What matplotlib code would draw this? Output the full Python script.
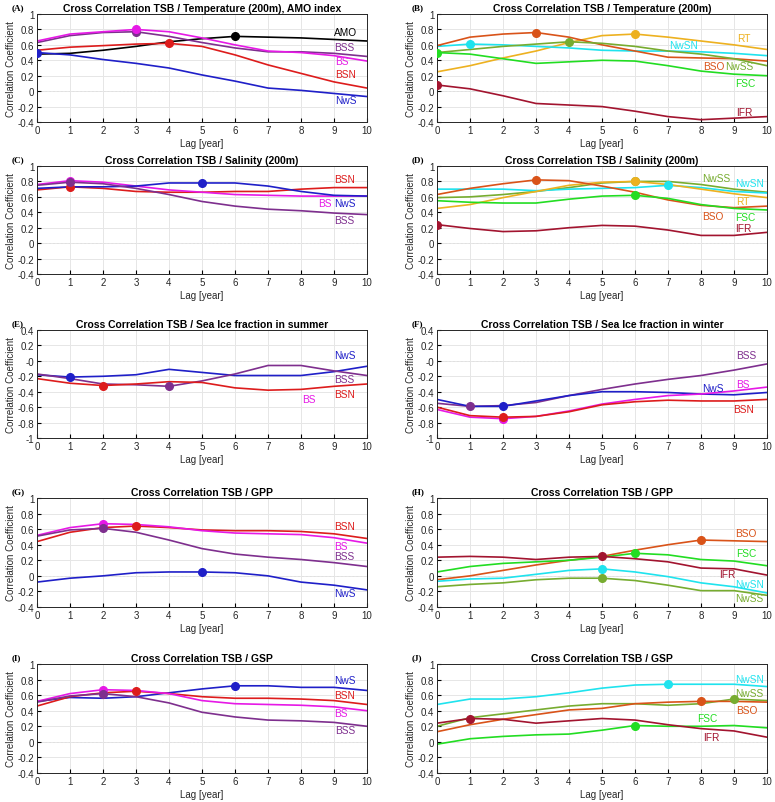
import matplotlib
matplotlib.use("Agg")
import matplotlib.pyplot as plt
import numpy as np

plt.rcParams["font.family"] = ["Liberation Sans", "DejaVu Sans"]

lag = np.arange(11)

# colours per region
colors = {
    "AMO": "black", "BSS": "#7E2F8E", "BS": "#E619E6", "BSN": "#DD1C1C",
    "NwS": "#1F1FC8", "RT": "#EDB120", "NwSN": "#1FE3EE", "BSO": "#D95319",
    "NwSS": "#77AC30", "FSC": "#22DD22", "IFR": "#A2142F",
}

# (A) Temperature 200m, AMO index
a_amo = [0.48, 0.49, 0.53, 0.58, 0.64, 0.68, 0.71, 0.70, 0.69, 0.67, 0.65]
a_bss = [0.63, 0.72, 0.76, 0.77, 0.71, 0.63, 0.56, 0.51, 0.51, 0.49, 0.45]
a_bs = [0.65, 0.74, 0.77, 0.80, 0.77, 0.69, 0.60, 0.52, 0.50, 0.46, 0.39]
a_bsn = [0.53, 0.57, 0.59, 0.61, 0.62, 0.58, 0.47, 0.34, 0.23, 0.12, 0.04]
a_nws = [0.50, 0.47, 0.41, 0.36, 0.30, 0.21, 0.13, 0.04, 0.01, -0.03, -0.07]

# (B) Temperature 200m
b_rt = [0.25, 0.33, 0.43, 0.52, 0.63, 0.72, 0.74, 0.70, 0.65, 0.60, 0.54]
b_nwsn = [0.58, 0.61, 0.60, 0.58, 0.56, 0.53, 0.52, 0.52, 0.51, 0.49, 0.46]
b_bso = [0.59, 0.70, 0.74, 0.76, 0.70, 0.60, 0.52, 0.44, 0.43, 0.42, 0.39]
b_nwss = [0.50, 0.54, 0.58, 0.61, 0.64, 0.62, 0.58, 0.52, 0.48, 0.42, 0.33]
b_fsc = [0.50, 0.48, 0.42, 0.36, 0.38, 0.40, 0.39, 0.33, 0.26, 0.22, 0.20]
b_ifr = [0.08, 0.03, -0.06, -0.16, -0.18, -0.20, -0.26, -0.33, -0.37, -0.35, -0.33]

# (C) Salinity 200m
c_bsn = [0.69, 0.73, 0.71, 0.67, 0.66, 0.66, 0.67, 0.67, 0.70, 0.72, 0.72]
c_bs = [0.76, 0.81, 0.79, 0.74, 0.69, 0.66, 0.63, 0.62, 0.61, 0.61, 0.61]
c_nws = [0.71, 0.73, 0.73, 0.74, 0.78, 0.78, 0.78, 0.74, 0.67, 0.62, 0.61]
c_bss = [0.75, 0.79, 0.77, 0.71, 0.63, 0.54, 0.48, 0.44, 0.42, 0.39, 0.37]

# (D) Salinity 200m
d_nwss = [0.59, 0.60, 0.63, 0.67, 0.72, 0.78, 0.80, 0.80, 0.76, 0.70, 0.66]
d_nwsn = [0.70, 0.70, 0.70, 0.68, 0.70, 0.71, 0.72, 0.75, 0.72, 0.67, 0.65]
d_rt = [0.45, 0.50, 0.59, 0.67, 0.75, 0.79, 0.80, 0.76, 0.70, 0.64, 0.59]
d_bso = [0.63, 0.71, 0.77, 0.82, 0.81, 0.74, 0.66, 0.56, 0.49, 0.46, 0.48]
d_fsc = [0.55, 0.53, 0.52, 0.52, 0.57, 0.61, 0.62, 0.58, 0.50, 0.45, 0.43]
d_ifr = [0.24, 0.19, 0.15, 0.16, 0.20, 0.23, 0.22, 0.17, 0.10, 0.10, 0.14]

# (E) Sea ice fraction in summer
e_nws = [-0.18, -0.21, -0.20, -0.18, -0.11, -0.15, -0.19, -0.19, -0.19, -0.14, -0.07]
e_bss = [-0.17, -0.23, -0.30, -0.31, -0.33, -0.26, -0.17, -0.06, -0.06, -0.13, -0.19]
e_bsn = [-0.23, -0.29, -0.32, -0.30, -0.27, -0.28, -0.35, -0.38, -0.37, -0.33, -0.30]

# (F) Sea ice fraction in winter
f_bss = [-0.55, -0.59, -0.58, -0.54, -0.45, -0.37, -0.30, -0.24, -0.19, -0.12, -0.04]
f_nws = [-0.50, -0.59, -0.59, -0.52, -0.45, -0.40, -0.40, -0.41, -0.43, -0.44, -0.41]
f_bs = [-0.63, -0.73, -0.75, -0.72, -0.65, -0.56, -0.50, -0.45, -0.43, -0.39, -0.34]
f_bsn = [-0.60, -0.71, -0.73, -0.72, -0.66, -0.57, -0.53, -0.51, -0.52, -0.52, -0.50]

# (G) GPP
g_bsn = [0.44, 0.56, 0.62, 0.64, 0.62, 0.59, 0.58, 0.58, 0.57, 0.54, 0.48]
g_bs = [0.52, 0.62, 0.67, 0.66, 0.63, 0.58, 0.55, 0.54, 0.53, 0.49, 0.42]
g_bss = [0.51, 0.59, 0.61, 0.56, 0.46, 0.35, 0.28, 0.24, 0.21, 0.17, 0.12]
g_nws = [-0.08, -0.03, 0.00, 0.04, 0.05, 0.05, 0.04, 0.00, -0.08, -0.12, -0.18]

# (H) GPP
h_bso = [-0.05, 0.00, 0.07, 0.14, 0.20, 0.25, 0.33, 0.40, 0.46, 0.45, 0.44]
h_fsc = [0.05, 0.12, 0.16, 0.18, 0.20, 0.24, 0.29, 0.27, 0.21, 0.19, 0.13]
h_ifr = [0.24, 0.25, 0.24, 0.21, 0.24, 0.25, 0.22, 0.18, 0.10, 0.09, 0.01]
h_nwsn = [-0.07, -0.04, -0.03, 0.02, 0.07, 0.09, 0.05, -0.01, -0.09, -0.14, -0.22]
h_nwss = [-0.14, -0.11, -0.09, -0.05, -0.03, -0.03, -0.06, -0.12, -0.19, -0.19, -0.25]

# (I) GSP
i_nws = [0.52, 0.57, 0.56, 0.58, 0.63, 0.68, 0.72, 0.72, 0.70, 0.70, 0.66]
i_bsn = [0.46, 0.58, 0.63, 0.65, 0.62, 0.58, 0.56, 0.56, 0.55, 0.53, 0.48]
i_bs = [0.52, 0.62, 0.67, 0.66, 0.62, 0.53, 0.49, 0.48, 0.47, 0.45, 0.40]
i_bss = [0.51, 0.59, 0.62, 0.58, 0.50, 0.38, 0.32, 0.28, 0.27, 0.25, 0.20]

# (J) GSP
j_nwsn = [0.48, 0.55, 0.55, 0.58, 0.63, 0.69, 0.73, 0.74, 0.74, 0.74, 0.71]
j_nwss = [0.20, 0.31, 0.36, 0.41, 0.46, 0.49, 0.49, 0.47, 0.49, 0.55, 0.53]
j_bso = [0.13, 0.22, 0.29, 0.35, 0.41, 0.43, 0.49, 0.51, 0.52, 0.52, 0.51]
j_fsc = [-0.03, 0.04, 0.07, 0.09, 0.10, 0.15, 0.21, 0.20, 0.20, 0.21, 0.18]
j_ifr = [0.24, 0.30, 0.29, 0.24, 0.27, 0.30, 0.28, 0.22, 0.17, 0.14, 0.06]

# panels: letter, title, ylim, [(name, values, marker lag)], [(name, x, y)] labels
panels = [
    ("A", "Cross Correlation TSB / Temperature (200m), AMO index", (-0.4, 1),
     [("AMO", a_amo, 6), ("BSS", a_bss, 3), ("BS", a_bs, 3), ("BSN", a_bsn, 4), ("NwS", a_nws, 0)],
     [("AMO", 9.35, 0.77), ("BSS", 9.3, 0.57), ("BS", 9.25, 0.39), ("BSN", 9.35, 0.22), ("NwS", 9.35, -0.11)]),
    ("B", "Cross Correlation TSB / Temperature (200m)", (-0.4, 1),
     [("RT", b_rt, 6), ("NwSN", b_nwsn, 1), ("BSO", b_bso, 3), ("NwSS", b_nwss, 4), ("FSC", b_fsc, 0), ("IFR", b_ifr, 0)],
     [("RT", 9.3, 0.69), ("NwSN", 7.47, 0.60), ("BSO", 8.38, 0.32), ("NwSS", 9.17, 0.32), ("FSC", 9.34, 0.11), ("IFR", 9.3, -0.27)]),
    ("C", "Cross Correlation TSB / Salinity (200m)", (-0.4, 1),
     [("BSN", c_bsn, 1), ("BS", c_bs, 1), ("NwS", c_nws, 5), ("BSS", c_bss, 1)],
     [("BSN", 9.32, 0.83), ("BS", 8.72, 0.52), ("NwS", 9.32, 0.52), ("BSS", 9.32, 0.30)]),
    ("D", "Cross Correlation TSB / Salinity (200m)", (-0.4, 1),
     [("NwSS", d_nwss, 6), ("NwSN", d_nwsn, 7), ("RT", d_rt, 6), ("BSO", d_bso, 3), ("FSC", d_fsc, 6), ("IFR", d_ifr, 0)],
     [("NwSS", 8.46, 0.85), ("NwSN", 9.46, 0.78), ("RT", 9.26, 0.54), ("BSO", 8.36, 0.35), ("FSC", 9.34, 0.34), ("IFR", 9.29, 0.195)]),
    ("E", "Cross Correlation TSB / Sea Ice fraction in summer", (-1, 0.4),
     [("NwS", e_nws, 1), ("BSS", e_bss, 4), ("BSN", e_bsn, 2)],
     [("NwS", 9.34, 0.07), ("BSS", 9.32, -0.24), ("BS", 8.23, -0.49), ("BSN", 9.32, -0.43)]),
    ("F", "Cross Correlation TSB / Sea Ice fraction in winter", (-1, 0.4),
     [("BSS", f_bss, 1), ("NwS", f_nws, 2), ("BS", f_bs, 2), ("BSN", f_bsn, 2)],
     [("BSS", 9.36, 0.08), ("BS", 9.26, -0.30), ("NwS", 8.36, -0.35), ("BSN", 9.29, -0.62)]),
    ("G", "Cross Correlation TSB / GPP", (-0.4, 1),
     [("BSN", g_bsn, 3), ("BS", g_bs, 2), ("BSS", g_bss, 2), ("NwS", g_nws, 5)],
     [("BSN", 9.32, 0.64), ("BS", 9.22, 0.38), ("BSS", 9.32, 0.26), ("NwS", 9.34, -0.22)]),
    ("H", "Cross Correlation TSB / GPP", (-0.4, 1),
     [("BSO", h_bso, 8), ("FSC", h_fsc, 6), ("IFR", h_ifr, 5), ("NwSN", h_nwsn, 5), ("NwSS", h_nwss, 5)],
     [("BSO", 9.36, 0.55), ("FSC", 9.36, 0.29), ("IFR", 8.79, 0.025), ("NwSN", 9.46, -0.10), ("NwSS", 9.46, -0.29)]),
    ("I", "Cross Correlation TSB / GSP", (-0.4, 1),
     [("NwS", i_nws, 6), ("BSN", i_bsn, 3), ("BS", i_bs, 2), ("BSS", i_bss, 2)],
     [("NwS", 9.34, 0.80), ("BSN", 9.32, 0.60), ("BS", 9.22, 0.37), ("BSS", 9.33, 0.15)]),
    ("J", "Cross Correlation TSB / GSP", (-0.4, 1),
     [("NwSN", j_nwsn, 7), ("NwSS", j_nwss, 9), ("BSO", j_bso, 8), ("FSC", j_fsc, 6), ("IFR", j_ifr, 1)],
     [("NwSN", 9.46, 0.81), ("NwSS", 9.46, 0.63), ("BSO", 9.4, 0.41), ("FSC", 8.2, 0.31), ("IFR", 8.3, 0.065)]),
]

W, H = 775, 803
fig = plt.figure(figsize=(W / 100, H / 100), dpi=100)

# axes boxes in pixels: (left, right) per column and (top, bottom) per row
cols = [(37, 367), (437, 767)]
rows = [(15, 123), (167, 275), (331, 439), (499, 608), (665, 774)]

for k, (letter, title, ylim, series, labels) in enumerate(panels):
    l, r = cols[k % 2]
    t, b = rows[k // 2]
    ax = fig.add_axes([l / W, 1 - b / H, (r - l) / W, (b - t) / H])
    ax.axhline(0, color="#333333", lw=0.7, ls=(0, (2, 2)), zorder=1)
    for name, vals, m in series:
        ax.plot(lag, vals, color=colors[name], lw=1.2, zorder=2)
        ax.plot(lag[m], vals[m], "o", color=colors[name], ms=5.5, zorder=3)
    for name, x, y in labels:
        ax.text(x, y, name, color=colors[name], fontsize=7.3, ha="center", va="center")
    ax.set_xlim(0, 10)
    ax.set_ylim(*ylim)
    ax.set_xticks(lag)
    ax.set_yticks(np.round(np.arange(ylim[0], ylim[1] + 0.01, 0.2), 1))
    ax.yaxis.set_major_formatter(plt.FuncFormatter(lambda v, p: f"{v:g}"))
    ax.grid(True, color="#e6e6e6", lw=0.7)
    ax.tick_params(direction="in", labelsize=7, labelcolor="#262626", length=3, pad=2)
    for s in ax.spines.values():
        s.set_color("#262626")
        s.set_linewidth(0.7)
    ax.set_title(title, fontsize=7.5, fontweight="bold", pad=2)
    ax.set_xlabel("Lag [year]", fontsize=7, color="#262626", labelpad=2)
    ax.set_ylabel("Correlation Coefficient", fontsize=7, color="#262626", labelpad=1)
    fig.text((l - 25) / W, 1 - (t - 7) / H, f"({letter})", fontsize=6.5,
             fontweight="bold", family="Liberation Serif", va="center", ha="left")

fig.savefig("out.png", dpi=100)
